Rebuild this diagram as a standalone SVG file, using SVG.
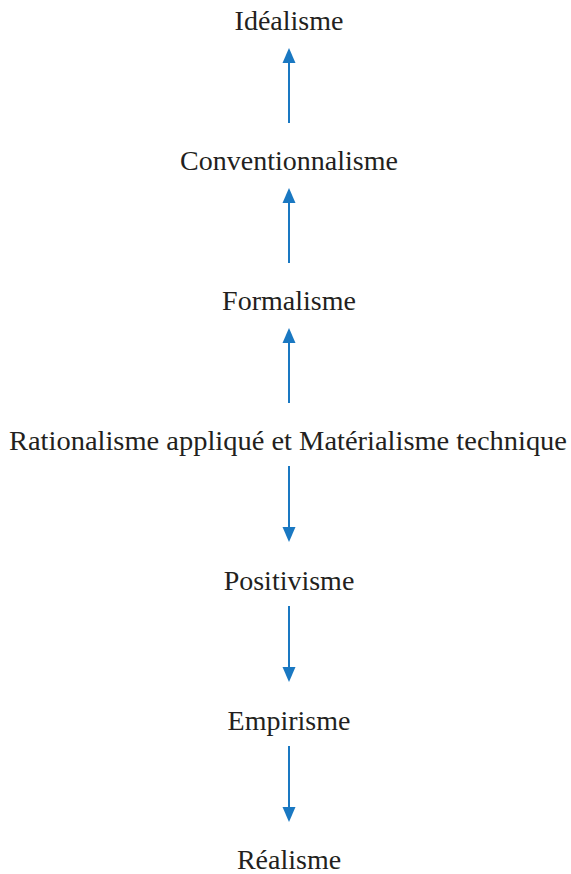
<svg xmlns="http://www.w3.org/2000/svg" width="571" height="874" viewBox="0 0 571 874">
<style>
.t{font-family:'Liberation Serif','Times New Roman','DejaVu Serif',serif;font-size:28px;fill:#231f20;text-anchor:middle}
.c line{stroke:#1a78c2;stroke-width:2}
.c polygon{fill:#1a78c2}
</style>
<rect width="571" height="874" fill="#fff"/>
<g id="idealisme"><text class="t" x="289" y="30">Idéalisme</text></g>
<g id="conventionnalisme"><text class="t" x="289" y="170">Conventionnalisme</text></g>
<g id="formalisme"><text class="t" x="289" y="310">Formalisme</text></g>
<g id="rationalisme"><text class="t" x="288" y="450" textLength="558" lengthAdjust="spacingAndGlyphs">Rationalisme appliqué et Matérialisme technique</text></g>
<g id="positivisme"><text class="t" x="289" y="590">Positivisme</text></g>
<g id="empirisme"><text class="t" x="289" y="730">Empirisme</text></g>
<g id="realisme"><text class="t" x="289" y="869">Réalisme</text></g>
<g class="c" id="connectors">
<line x1="289" y1="123" x2="289" y2="60"/><polygon points="289,48 282.5,63 295.5,63"/>
<line x1="289" y1="263" x2="289" y2="200"/><polygon points="289,188 282.5,203 295.5,203"/>
<line x1="289" y1="403" x2="289" y2="340"/><polygon points="289,328 282.5,343 295.5,343"/>
<line x1="289" y1="466" x2="289" y2="530"/><polygon points="289,542 282.5,527 295.5,527"/>
<line x1="289" y1="606" x2="289" y2="670"/><polygon points="289,682 282.5,667 295.5,667"/>
<line x1="289" y1="746" x2="289" y2="810"/><polygon points="289,822 282.5,807 295.5,807"/>
</g>
</svg>
